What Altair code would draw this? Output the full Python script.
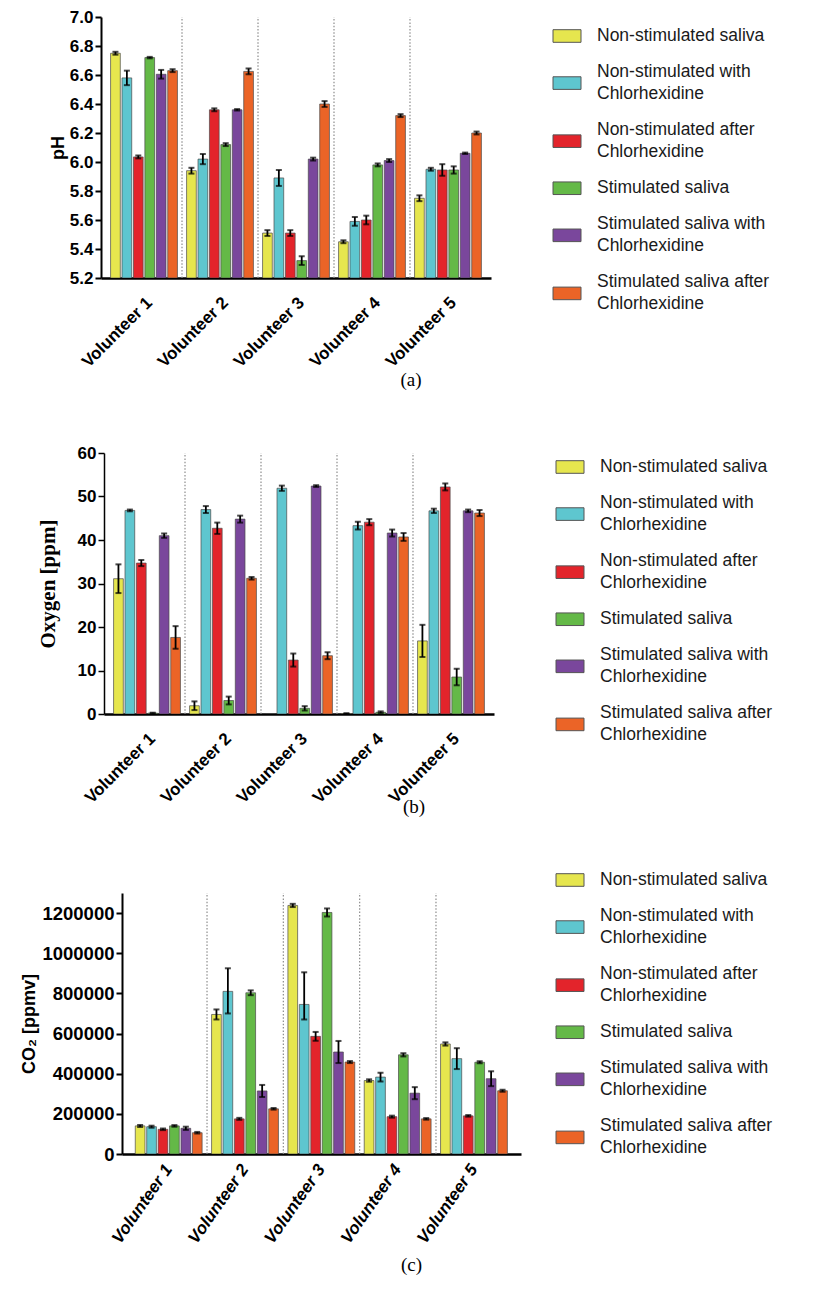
import altair as alt
import pandas as pd

volunteers = ["Volunteer 1", "Volunteer 2", "Volunteer 3", "Volunteer 4", "Volunteer 5"]
series = [
    "Non-stimulated saliva",
    "Non-stimulated with Chlorhexidine",
    "Non-stimulated after Chlorhexidine",
    "Stimulated saliva",
    "Stimulated saliva with Chlorhexidine",
    "Stimulated saliva after Chlorhexidine",
]
colors = ["#E6E64E", "#5EC6CF", "#E3242B", "#64B947", "#7A479C", "#EB6427"]

# rows = series (in the order above), columns = Volunteer 1..5
ph_mean = [
    [6.75, 5.94, 5.51, 5.45, 5.75],
    [6.58, 6.02, 5.89, 5.59, 5.95],
    [6.035, 6.36, 5.51, 5.60, 5.945],
    [6.72, 6.12, 5.32, 5.98, 5.945],
    [6.605, 6.36, 6.02, 6.01, 6.06],
    [6.63, 6.625, 6.40, 6.32, 6.20],
]
ph_err = [
    [0.01, 0.02, 0.02, 0.01, 0.02],
    [0.05, 0.035, 0.055, 0.03, 0.01],
    [0.01, 0.01, 0.02, 0.03, 0.04],
    [0.005, 0.01, 0.03, 0.01, 0.025],
    [0.03, 0.005, 0.01, 0.01, 0.005],
    [0.01, 0.02, 0.02, 0.01, 0.01],
]
o2_mean = [
    [31.1, 1.9, 0.0, 0.1, 16.8],
    [46.8, 47.0, 51.9, 43.3, 46.7],
    [34.7, 42.7, 12.4, 44.1, 52.2],
    [0.2, 3.1, 1.3, 0.4, 8.5],
    [41.0, 44.8, 52.4, 41.6, 46.7],
    [17.6, 31.2, 13.4, 40.7, 46.2],
]
o2_err = [
    [3.3, 1.0, 0.0, 0.1, 3.7],
    [0.2, 0.8, 0.6, 0.9, 0.5],
    [0.7, 1.3, 1.5, 0.7, 0.8],
    [0.1, 0.9, 0.5, 0.2, 1.9],
    [0.5, 0.8, 0.2, 0.8, 0.3],
    [2.6, 0.3, 0.8, 0.9, 0.7],
]
co2_mean = [
    [140000, 695000, 1238000, 366000, 548000],
    [136000, 810000, 745000, 383000, 475000],
    [123000, 175000, 586000, 186000, 190000],
    [140000, 803000, 1203000, 494000, 457000],
    [128000, 314000, 508000, 303000, 375000],
    [106000, 225000, 458000, 175000, 315000],
]
co2_err_up = [
    [5000, 25000, 8000, 6000, 8000],
    [5000, 115000, 160000, 22000, 52000],
    [4000, 5000, 22000, 5000, 4000],
    [4000, 12000, 20000, 8000, 5000],
    [8000, 30000, 55000, 30000, 37000],
    [4000, 4000, 5000, 4000, 5000],
]
co2_err_dn = [
    [5000, 25000, 8000, 6000, 8000],
    [5000, 110000, 75000, 22000, 52000],
    [4000, 5000, 22000, 5000, 4000],
    [4000, 12000, 20000, 8000, 5000],
    [8000, 30000, 55000, 30000, 37000],
    [4000, 4000, 5000, 4000, 5000],
]

ph_ticks = [5.2, 5.4, 5.6, 5.8, 6.0, 6.2, 6.4, 6.6, 6.8, 7.0]
o2_ticks = [0, 10, 20, 30, 40, 50, 60]
co2_ticks = [0, 200000, 400000, 600000, 800000, 1000000, 1200000]

SANS = "Liberation Sans"
SERIF = "Liberation Serif"
SYMBOL = "M-1,-0.45H1V0.45H-1Z"
color_scale = alt.Scale(domain=series, range=colors)


def frame(mean, up, dn):
    rows = []
    for si, s in enumerate(series):
        for vi, v in enumerate(volunteers):
            m = mean[si][vi]
            rows.append({"vol": v, "series": s, "value": m,
                         "lo": m - dn[si][vi], "hi": m + up[si][vi], "err": up[si][vi]})
    return pd.DataFrame(rows)


def label_lines(name):
    tail = " Chlorhexidine"
    if name.endswith(tail):
        return [name[: -len(tail)], tail.strip()]
    return [name]


def legend_frames():
    syms, lines = [], []
    pos, gap = 0.0, 0.64
    for s in series:
        parts = label_lines(s)
        n = len(parts)
        c = pos + n / 2
        syms.append({"series": s, "y": c})
        for j, t in enumerate(parts):
            lines.append({"series": s, "text": t, "y": c + (j - (n - 1) / 2)})
        pos += n + gap
    return pd.DataFrame(syms), pd.DataFrame(lines)


def legend_chart(first_offset_px):
    lh = 22.0
    h = 290
    d0 = 0.5 - first_offset_px / lh
    ys = alt.Scale(domain=[d0, d0 + h / lh], range=[0, h])
    sym_df, line_df = legend_frames()
    sym = alt.Chart(sym_df).mark_point(
        shape=SYMBOL, size=784, filled=True, stroke="#555555", strokeWidth=1, opacity=1
    ).encode(
        x=alt.value(14),
        y=alt.Y("y:Q", scale=ys, axis=None),
        color=alt.Color("series:N", scale=color_scale, legend=None),
    )
    txt = alt.Chart(line_df).mark_text(
        align="left", baseline="middle", font=SANS, fontSize=17.5, color="#1a1a1a"
    ).encode(
        x=alt.value(44),
        y=alt.Y("y:Q", scale=ys, axis=None),
        text="text:N",
    )
    return alt.layer(sym, txt).properties(width=240, height=h)


def panel(df, dom, ticks, fmt, ytitle, yt_font, yt_size, yt_pad, lab_size,
          caption, cap_dx, cap_offset, width, pad_outer,
          x_angle, x_style, x_pad, axis_w):
    xscale = alt.Scale(domain=volunteers, paddingInner=0, paddingOuter=pad_outer)
    xoff = alt.Scale(domain=series, paddingInner=0.15, paddingOuter=0.4)
    yscale = alt.Scale(domain=dom, zero=False, nice=False)
    xaxis = alt.Axis(title=None, labelAngle=x_angle, labelFont=SANS, labelFontSize=17,
                     labelFontWeight="bold", labelFontStyle=x_style, labelColor="black",
                     ticks=False, domainColor="black", domainWidth=2.5, labelPadding=x_pad)
    yaxis = alt.Axis(values=ticks, format=fmt, grid=False, labelFont=SANS,
                     labelFontSize=lab_size, labelFontWeight="bold", labelColor="black",
                     labelOverlap=False, labelBound=False, domainColor="black",
                     domainWidth=axis_w, tickColor="black", tickWidth=axis_w, tickSize=6,
                     labelPadding=2, title=ytitle, titleFont=yt_font, titleFontSize=yt_size,
                     titleFontWeight="bold", titleColor="black", titlePadding=yt_pad)
    xenc = alt.X("vol:N", scale=xscale, sort=volunteers, axis=xaxis)
    oenc = alt.XOffset("series:N", scale=xoff, sort=series)

    seps = alt.Chart(pd.DataFrame({"vol": volunteers[1:]})).mark_rule(
        color="#8c8c8c", strokeWidth=1.2, strokeDash=[1.5, 1.8]
    ).encode(
        x=alt.X("vol:N", scale=xscale, sort=volunteers, bandPosition=0, axis=xaxis),
        y=alt.Y(datum=dom[0], scale=yscale, axis=yaxis), y2=alt.datum(dom[1]),
    )
    base = alt.Chart(df)
    bars = base.mark_bar(stroke="#4a4a4a", strokeWidth=0.7, clip=True).encode(
        x=xenc, xOffset=oenc,
        y=alt.Y("value:Q", scale=yscale, axis=yaxis),
        y2=alt.datum(dom[0]),
        color=alt.Color("series:N", scale=color_scale, sort=series, legend=None),
    )
    eb = base.transform_filter("datum.err > 0")
    rule = eb.mark_rule(color="black", strokeWidth=1.8).encode(
        x=xenc, xOffset=oenc, y=alt.Y("lo:Q", scale=yscale, axis=yaxis), y2="hi:Q")
    cap_lo = eb.mark_tick(color="black", thickness=2, size=6).encode(
        x=xenc, xOffset=oenc, y=alt.Y("lo:Q", scale=yscale, axis=yaxis))
    cap_hi = eb.mark_tick(color="black", thickness=2, size=6).encode(
        x=xenc, xOffset=oenc, y=alt.Y("hi:Q", scale=yscale, axis=yaxis))
    return alt.layer(bars, seps, rule, cap_lo, cap_hi).properties(
        width=width, height=261,
        title=alt.TitleParams(caption, orient="bottom", anchor="middle", font=SERIF,
                              fontSize=19, fontWeight="normal", color="black",
                              dx=cap_dx, offset=cap_offset),
    )


def spacer(w):
    return alt.Chart(pd.DataFrame({"s": [0]})).mark_point(opacity=0).encode(
        x=alt.value(0), y=alt.value(0)).properties(width=w, height=1)


pa = panel(frame(ph_mean, ph_err, ph_err), [5.2, 7.0], ph_ticks, ".1f", "pH", SANS, 18, 2, 17,
           "(a)", 115, 1, 390, 0.066, -45, "normal", 16, 2)
pb = panel(frame(o2_mean, o2_err, o2_err), [0, 60], o2_ticks, "d", "Oxygen [ppm]", SERIF, 21, 19, 17,
           "(b)", 115, -8, 390, 0.066, -45, "normal", 16, 1.5)
pc = panel(frame(co2_mean, co2_err_up, co2_err_dn), [0, 1300000], co2_ticks, "d", "CO₂ [ppmv]", SANS, 18, 3, 18.5,
           "(c)", 90, 10, 399, 0.114, -55, "italic", 12, 2)

row_a = alt.hconcat(spacer(38), alt.hconcat(pa, legend_chart(19), spacing=60), spacing=0)
row_b = alt.hconcat(spacer(26), alt.hconcat(pb, legend_chart(14), spacing=60), spacing=0)
row_c = alt.hconcat(spacer(9), alt.hconcat(pc, legend_chart(-13), spacing=33), spacing=0)

chart = alt.vconcat(row_a, row_b, row_c, spacing=54).properties(
    padding={"left": 0, "top": 0, "right": 0, "bottom": 0},
    background="white",
).configure_view(strokeWidth=0, stroke=None)

chart.save("out.html", embed_options={"renderer": "svg", "actions": False})
